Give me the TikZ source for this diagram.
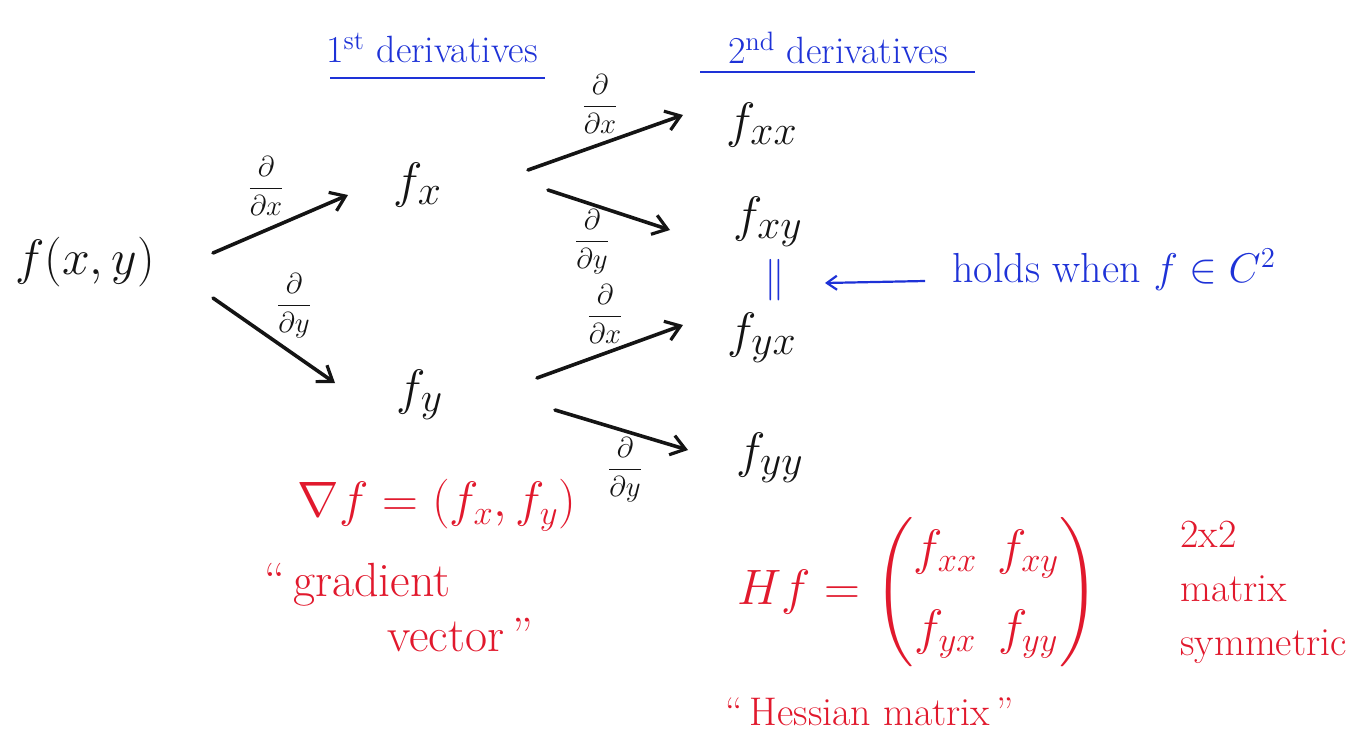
\documentclass[tikz,border=0pt]{standalone}
\usepackage{amsmath}
\usetikzlibrary{arrows.meta}
\definecolor{pen}{RGB}{20,20,20}
\definecolor{bpen}{RGB}{30,50,215}
\definecolor{rpen}{RGB}{225,25,45}
\tikzset{
  blk/.style={text=pen, font=\fontsize{28}{34}\selectfont, inner sep=2pt},
  lbl/.style={text=pen, font=\fontsize{15}{18}\selectfont, inner sep=1pt},
  blu/.style={text=bpen, font=\fontsize{19}{23}\selectfont, inner sep=1pt},
  red/.style={text=rpen, font=\fontsize{24}{30}\selectfont, inner sep=1pt},
  darr/.style={draw=pen, line width=1.8pt, line cap=round, -{Straight Barb[length=7pt,width=10pt,line width=1.6pt]}},
  barr/.style={draw=bpen, line width=1.1pt, -{Straight Barb[length=5pt,width=7pt]}},
  uline/.style={draw=bpen, line width=1.3pt}
}
\begin{document}
\begin{tikzpicture}[x=0.5pt,y=-0.5pt]
\useasboundingbox (0,0) rectangle (1353,739);

% headings
\node[blu] (h1) at (432,48) {1\textsuperscript{st} derivatives};
\node[blu] (h2) at (838,48) {2\textsuperscript{nd} derivatives};
\draw[uline] (330,78) -- (545,78);
\draw[uline] (700,72) -- (975,72);

% nodes
\node[blk] (f)   at (85,262)  {$f(x,y)$};
\node[blk] (fx)  at (418,185) {$f_x$};
\node[blk] (fy)  at (420,395) {$f_y$};
\node[blk] (fxx) at (762,125) {$f_{xx}$};
\node[blk] (fxy) at (768,222) {$f_{xy}$};
\node[blu, font=\fontsize{20}{24}\selectfont] (eq) at (775,280) {$\|$};
\node[blk] (fyx) at (762,338) {$f_{yx}$};
\node[blk] (fyy) at (770,458) {$f_{yy}$};

% arrow end points
\coordinate (a1s) at (213,253); \coordinate (a1e) at (348,195);
\coordinate (a2s) at (213,298); \coordinate (a2e) at (335,383);
\coordinate (a3s) at (528,170); \coordinate (a3e) at (683,115);
\coordinate (a4s) at (548,190); \coordinate (a4e) at (670,230);
\coordinate (a5s) at (537,378); \coordinate (a5e) at (683,325);
\coordinate (a6s) at (555,410); \coordinate (a6e) at (688,450);

\draw[darr] (a1s) -- (a1e);
\draw[darr] (a2s) -- (a2e);
\draw[darr] (a3s) -- (a3e);
\draw[darr] (a4s) -- (a4e);
\draw[darr] (a5s) -- (a5e);
\draw[darr] (a6s) -- (a6e);

% derivative labels
\node[lbl] (l1) at (266,186) {$\dfrac{\partial}{\partial x}$};
\node[lbl] (l2) at (294,306) {$\dfrac{\partial}{\partial y}$};
\node[lbl] (l3) at (600,104) {$\dfrac{\partial}{\partial x}$};
\node[lbl] (l4) at (592,242) {$\dfrac{\partial}{\partial y}$};
\node[lbl] (l5) at (605,314) {$\dfrac{\partial}{\partial x}$};
\node[lbl] (l6) at (625,470) {$\dfrac{\partial}{\partial y}$};

% equality note
\node[blu, anchor=west, font=\fontsize{21}{25}\selectfont] (holds) at (950,270) {holds when $f \in C^{2}$};
\coordinate (bs) at (925,281);
\coordinate (be) at (825,283);
\draw[barr] (bs) -- (be);

% gradient
\node[red] (grad) at (437,505) {$\nabla f = (f_x, f_y)$};
\node[red, anchor=west] (g1) at (262,585) {``\,gradient};
\node[red, anchor=west] (g2) at (385,635) {vector\,''};

% Hessian
\node[red] (hess) at (918,592) {$Hf = \begin{pmatrix} f_{xx} & f_{xy}\\[10pt] f_{yx} & f_{yy}\end{pmatrix}$};
\node[red, anchor=west, align=left, font=\fontsize{20}{27}\selectfont] (sym) at (1178,592) {2x2\\matrix\\symmetric};
\node[red, font=\fontsize{20}{25}\selectfont] (hname) at (870,712) {``\,Hessian matrix\,''};
\end{tikzpicture}
\end{document}
